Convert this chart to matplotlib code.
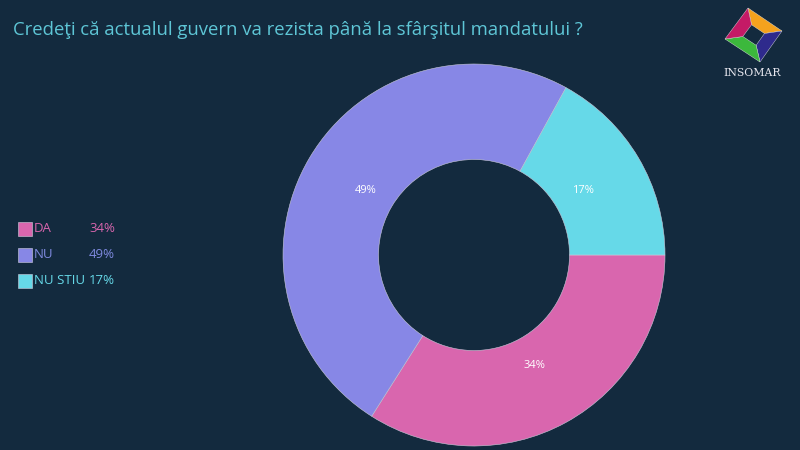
import matplotlib.pyplot as plt
import numpy as np
from matplotlib.patches import Polygon, Rectangle

# Survey data
categories = ["DA", "NU", "NU STIU"]
values = [34, 49, 17]
colors = ["#d966ae", "#8787e6", "#66d9e8"]
legend_text_colors = ["#d966ae", "#7f8ae0", "#66d9e8"]
title = "Credeţi că actualul guvern va rezista până la sfârşitul mandatului ?"

bg = "#132a3e"


def px(x, y):
    # pixel coords (origin top-left) -> figure fraction
    return (x / 800, 1 - y / 450)


fig = plt.figure(figsize=(8, 4.5), dpi=100, facecolor=bg)

# donut
ax = fig.add_axes([283 / 800, 4 / 450, 382 / 800, 382 / 450])
ax.set_facecolor(bg)
wedges, texts, autotexts = ax.pie(
    values, colors=colors, startangle=0, counterclock=False,
    radius=1.0, autopct="%d%%", pctdistance=0.66,
    wedgeprops=dict(width=0.5, edgecolor="#c8c8d8", linewidth=0.4),
    textprops=dict(color="white", fontsize=8, family="Open Sans"),
)
ax.set_aspect("equal")
ax.set_xlim(-1, 1)
ax.set_ylim(-1, 1)
ax.axis("off")

# title
fig.text(*px(13, 30), title, color="#5ec6d6", fontsize=13.3,
         family="Open Sans", va="center", ha="left")

# legend on left
for i, (cat, val) in enumerate(zip(categories, values)):
    yy = 229 + i * 26
    fig.patches.append(Rectangle(px(18, yy + 7), 14 / 800, 14 / 450,
                                 transform=fig.transFigure, facecolor=colors[i],
                                 edgecolor="#d0d0e0", linewidth=0.4))
    fig.text(*px(34, yy), cat, color=legend_text_colors[i], fontsize=9.5,
             family="Open Sans", va="center", ha="left")
    fig.text(*px(89, yy), "%d%%" % val, color=legend_text_colors[i], fontsize=9.5,
             family="Open Sans", va="center", ha="left")

# logo: ring of four coloured pieces
outer = np.array([[748, 8], [782, 31], [760, 62], [725, 39]], dtype=float)
c = outer.mean(axis=0)
inner = c + (outer - c) * 0.38
logo_colors = ["#f5a21d", "#2e2a8c", "#3cb83c", "#c41a66"]
for k in range(4):
    a, b = k, (k + 1) % 4
    pts = [outer[a], outer[b], inner[b], inner[a]]
    pts = [px(p[0], p[1]) for p in pts]
    fig.patches.append(Polygon(pts, closed=True, transform=fig.transFigure,
                               facecolor=logo_colors[k], edgecolor="#e0e0e0",
                               linewidth=0.3))
fig.text(*px(752, 73), "INSOMAR", color="#e8e8f0", fontsize=7.8,
         family="DejaVu Serif", ha="center", va="center")

fig.savefig("out.png", facecolor=bg)
